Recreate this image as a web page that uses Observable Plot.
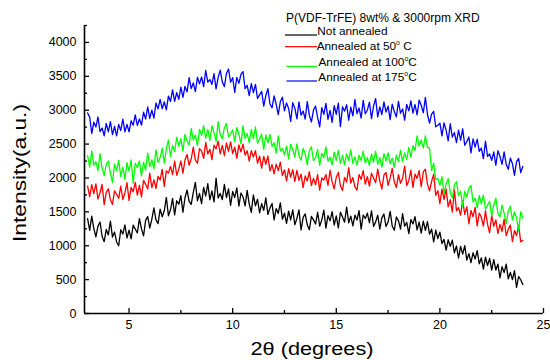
<!DOCTYPE html>
<html><head><meta charset="utf-8">
<script src="https://cdn.jsdelivr.net/npm/d3@7"></script>
<script src="https://cdn.jsdelivr.net/npm/@observablehq/plot@0.6"></script>
<style>body{margin:0;background:#fff} svg{display:block}</style>
</head><body><div id="chart"></div>
<script>
const thetaStart = 3, thetaStep = 0.1;
const notAnnealed = [
1400,1228,1436,1254,1132,1290,1350,1140,1060,1240,
1160,1364,1128,1202,1056,1000,1236,1172,1308,1114,
1230,1102,1304,1246,1188,1400,1248,1146,1374,1432,
1260,1394,1558,1382,1326,1540,1428,1516,1714,1442,
1530,1698,1456,1664,1612,1740,1494,1708,1822,1656,
1610,1788,1936,1664,1772,1620,1862,1734,1916,1678,
1810,1648,1996,1704,1772,1680,1906,1712,1838,1594,
1800,1712,1854,1586,1778,1720,1588,1816,1614,1492,
1750,1588,1686,1484,1622,1520,1706,1462,1558,1624,
1380,1548,1476,1634,1392,1480,1330,1510,1380,1530,
1310,1404,1528,1232,1416,1470,1308,1236,1434,1382,
1320,1494,1288,1382,1526,1260,1444,1368,1502,1306,
1440,1262,1494,1426,1348,1570,1338,1436,1294,1452,
1380,1518,1246,1454,1402,1480,1338,1516,1284,1352,
1450,1246,1412,1468,1284,1350,1506,1292,1228,1424,
1370,1246,1472,1288,1344,1180,1386,1322,1428,1234,
1350,1186,1362,1228,1354,1170,1244,1058,1232,1106,
1200,1032,1094,936,1088,990,1082,894,996,818,
990,876,1002,788,884,750,896,802,928,734,
820,656,832,708,814,640,796,642,728,524,
690,604,728,512,606,500,632,384,546,498,
430];
const annealed50 = [
1880,1726,1902,1768,1914,1690,1782,1904,1606,1788,
1840,1680,1610,1810,1760,1700,1880,1680,1780,1930,
1670,1862,1794,1936,1748,1890,1722,1964,1906,1838,
2070,1856,1972,1848,2024,1970,2128,1876,2104,2072,
2170,2050,2250,2040,2130,2250,2072,2264,2346,2188,
2280,2456,2262,2218,2434,2400,2288,2526,2354,2422,
2270,2484,2428,2542,2356,2480,2328,2516,2394,2532,
2360,2456,2292,2488,2384,2500,2336,2402,2248,2404,
2310,2404,2218,2322,2146,2320,2202,2324,2106,2198,
2060,2204,2108,2232,2036,2120,1958,2136,2014,2122,
1950,2112,1964,2056,1858,2030,1956,2092,1888,1994,
1900,2050,1820,2000,1970,2050,1892,2114,1946,1838,
2010,2082,1884,1816,2008,1940,2152,1924,2006,1868,
1820,2050,1980,2110,1910,2020,1880,2070,2000,1930,
2130,1958,1836,2044,2082,1890,2000,2140,1940,1860,
2050,1922,1994,2176,1888,1960,2116,1862,2058,1994,
2110,1870,2090,2130,1910,1810,1948,2056,1744,1812,
1620,1836,1682,1838,1574,1680,1498,1826,1514,1562,
1450,1666,1462,1578,1324,1520,1428,1566,1294,1482,
1420,1288,1516,1314,1192,1450,1286,1382,1178,1314,
1210,1394,1148,1242,1306,1060,1224,1148,1302,1056,
1080];
const annealed100 = [
2330,2160,2400,2190,2240,2110,2358,2146,2034,2202,
2250,2076,1932,2208,2104,2260,2024,2158,1982,2226,
2100,2266,1922,2218,2154,2250,2032,2234,2116,2368,
2170,2268,2136,2414,2232,2300,2440,2220,2430,2560,
2310,2480,2390,2600,2470,2580,2396,2642,2548,2484,
2730,2562,2634,2476,2718,2630,2774,2588,2712,2556,
2770,2670,2540,2830,2640,2580,2738,2806,2604,2652,
2710,2536,2742,2648,2504,2770,2584,2658,2522,2716,
2580,2752,2514,2576,2648,2420,2634,2518,2642,2466,
2520,2366,2622,2398,2434,2340,2470,2280,2500,2420,
2310,2504,2328,2262,2436,2360,2196,2402,2458,2254,
2300,2418,2186,2364,2302,2460,2248,2306,2194,2382,
2260,2408,2216,2334,2192,2360,2258,2416,2214,2312,
2190,2338,2256,2394,2222,2300,2188,2356,2234,2392,
2200,2300,2160,2360,2250,2370,2212,2294,2156,2338,
2240,2410,2240,2370,2270,2450,2308,2476,2404,2622,
2470,2560,2440,2620,2450,2440,2110,2220,1980,1990,
1890,2020,1770,1910,1990,1790,1706,1892,1948,1744,
1800,1582,1804,1716,1848,1890,1646,1702,1558,1744,
1620,1746,1542,1598,1654,1440,1596,1702,1478,1424,
1600,1478,1326,1514,1582,1380,1498,1416,1224,1502,
1410];
const annealed175 = [
2960,2898,2656,2824,2752,2900,2684,2738,2622,2806,
2680,2830,2640,2760,2620,2790,2700,2870,2680,2790,
2680,2844,2778,2932,2776,2870,2780,2970,2870,3050,
2880,3002,2884,3106,3018,3160,3022,3124,3006,3208,
3130,3300,3130,3260,3160,3340,3190,3350,3270,3480,
3320,3402,3274,3486,3388,3490,3348,3586,3414,3452,
3380,3538,3316,3484,3592,3420,3346,3542,3608,3414,
3480,3262,3484,3396,3528,3570,3318,3366,3214,3392,
3260,3382,3174,3226,3278,3060,3214,3318,3092,3036,
3210,3088,2936,3124,3192,2990,3108,3026,2834,3112,
3030,2872,3124,2926,2988,2870,3128,2926,2824,3002,
3060,2892,2754,3036,2938,3100,2864,2998,2822,3066,
2940,3104,2758,3052,2986,3080,2852,3044,2916,3158,
2950,3032,2884,3146,2948,3000,3118,2876,3064,3172,
2900,3048,2936,3124,2972,3060,2860,3090,2980,2900,
3130,2954,3018,2852,3086,2990,3138,2956,3084,2932,
3150,3070,2960,3190,2940,2810,2942,2984,2756,2778,
2810,2622,2814,2706,2548,2800,2604,2668,2522,2706,
2560,2726,2482,2538,2604,2370,2578,2456,2574,2392,
2440,2286,2542,2318,2354,2260,2384,2188,2402,2316,
2200,2386,2202,2128,2294,2210,2040,2240,2290,2080,
2170];

const seriesNames = ["Not annealed", "Annealed at 50° C", "Annealed at 100°C", "Annealed at 175°C"];
const seriesColors = ["#000000", "#ff0000", "#00ff00", "#0000ff"];
const legendTitle = "P(VDF-TrFE) 8wt% & 3000rpm XRD";
const xLabel = "2θ (degrees)";
const yLabel = "Intensity(a.u.)";
const xMajorTicks = [5, 10, 15, 20, 25];
const xMinorTicks = [7.5, 12.5, 17.5, 22.5];
const yMajorTicks = [0, 500, 1000, 1500, 2000, 2500, 3000, 3500, 4000];
const yMinorTicks = [250, 750, 1250, 1750, 2250, 2750, 3250, 3750, 4250];

const allSeries = [notAnnealed, annealed50, annealed100, annealed175];
const rows = allSeries.flatMap((vals, s) => vals.map((v, i) => ({
  theta: +(thetaStart + i * thetaStep).toFixed(2),
  intensity: v,
  series: seriesNames[s]
})));

const FONT = "Arial, 'Liberation Sans', sans-serif";
const plot = Plot.plot({
  width: 550, height: 360,
  marginLeft: 84, marginRight: 7, marginTop: 25, marginBottom: 47,
  style: {fontFamily: FONT, fontSize: "12.5px", background: "#fff", color: "#000"},
  x: {domain: [2.85, 25], label: null},
  y: {domain: [0, 4250], label: null},
  color: {domain: seriesNames, range: seriesColors},
  marks: [
    Plot.line(rows, {x: "theta", y: "intensity", z: "series", stroke: "series", strokeWidth: 1.3}),
    Plot.axisY(yMajorTicks, {tickSize: -5, tickPadding: 13, strokeWidth: 1.3, tickFormat: d3.format("d"), label: null}),
    Plot.axisY(yMinorTicks, {tickSize: -3, fill: "none", strokeWidth: 1.3, label: null}),
    Plot.axisX(xMajorTicks, {tickSize: -5, tickPadding: 12, strokeWidth: 1.3, tickFormat: d3.format("d"), label: null}),
    Plot.axisX(xMinorTicks, {tickSize: -3, fill: "none", strokeWidth: 1.3, label: null}),
    Plot.ruleX([2.85], {strokeWidth: 1.6}),
    Plot.ruleY([0], {strokeWidth: 1.6})
  ]
});
document.getElementById("chart").appendChild(plot);

const svg = d3.select(plot);
svg.append("text")
  .attr("transform", "translate(26,173) rotate(-90)")
  .attr("text-anchor", "middle").attr("font-family", FONT).attr("font-size", 19)
  .attr("textLength", 138).attr("lengthAdjust", "spacingAndGlyphs")
  .attr("fill", "#000").text(yLabel);
svg.append("text")
  .attr("x", 312).attr("y", 355)
  .attr("text-anchor", "middle").attr("font-family", FONT).attr("font-size", 18)
  .attr("textLength", 123).attr("lengthAdjust", "spacingAndGlyphs")
  .attr("fill", "#000").text(xLabel);

// legend
const lg = svg.append("g").attr("font-family", FONT).attr("fill", "#000").attr("text-anchor", "start");
lg.append("text").attr("x", 286).attr("y", 22).attr("font-size", 12).text(legendTitle);
const legendParts = [
  [["Not annealed", false]],
  [["Annealed at 50", false], ["o", true], [" C", false]],
  [["Annealed at 100", false], ["o", true], ["C", false]],
  [["Annealed at 175", false], ["o", true], ["C", false]]
];
const lineY = [35, 46.7, 66.5, 81];
const textY = [35, 50, 65.7, 81];
const lineX1 = [285, 285, 286.5, 286.5];
const textX = [317.3, 316.7, 318.5, 318.3];
legendParts.forEach((parts, i) => {
  lg.append("line").attr("x1", lineX1[i]).attr("x2", 317).attr("y1", lineY[i]).attr("y2", lineY[i])
    .attr("stroke", seriesColors[i]).attr("stroke-width", 1.2);
  const t = lg.append("text").attr("x", textX[i]).attr("y", textY[i]).attr("font-size", 11.8);
  parts.forEach(([s, sup]) => {
    const ts = t.append("tspan").text(s);
    if (sup) ts.attr("font-size", 7).attr("dy", -5);
    else if (t.selectAll("tspan").size() > 1) ts.attr("dy", 5);
  });
});
</script>
</body></html>
